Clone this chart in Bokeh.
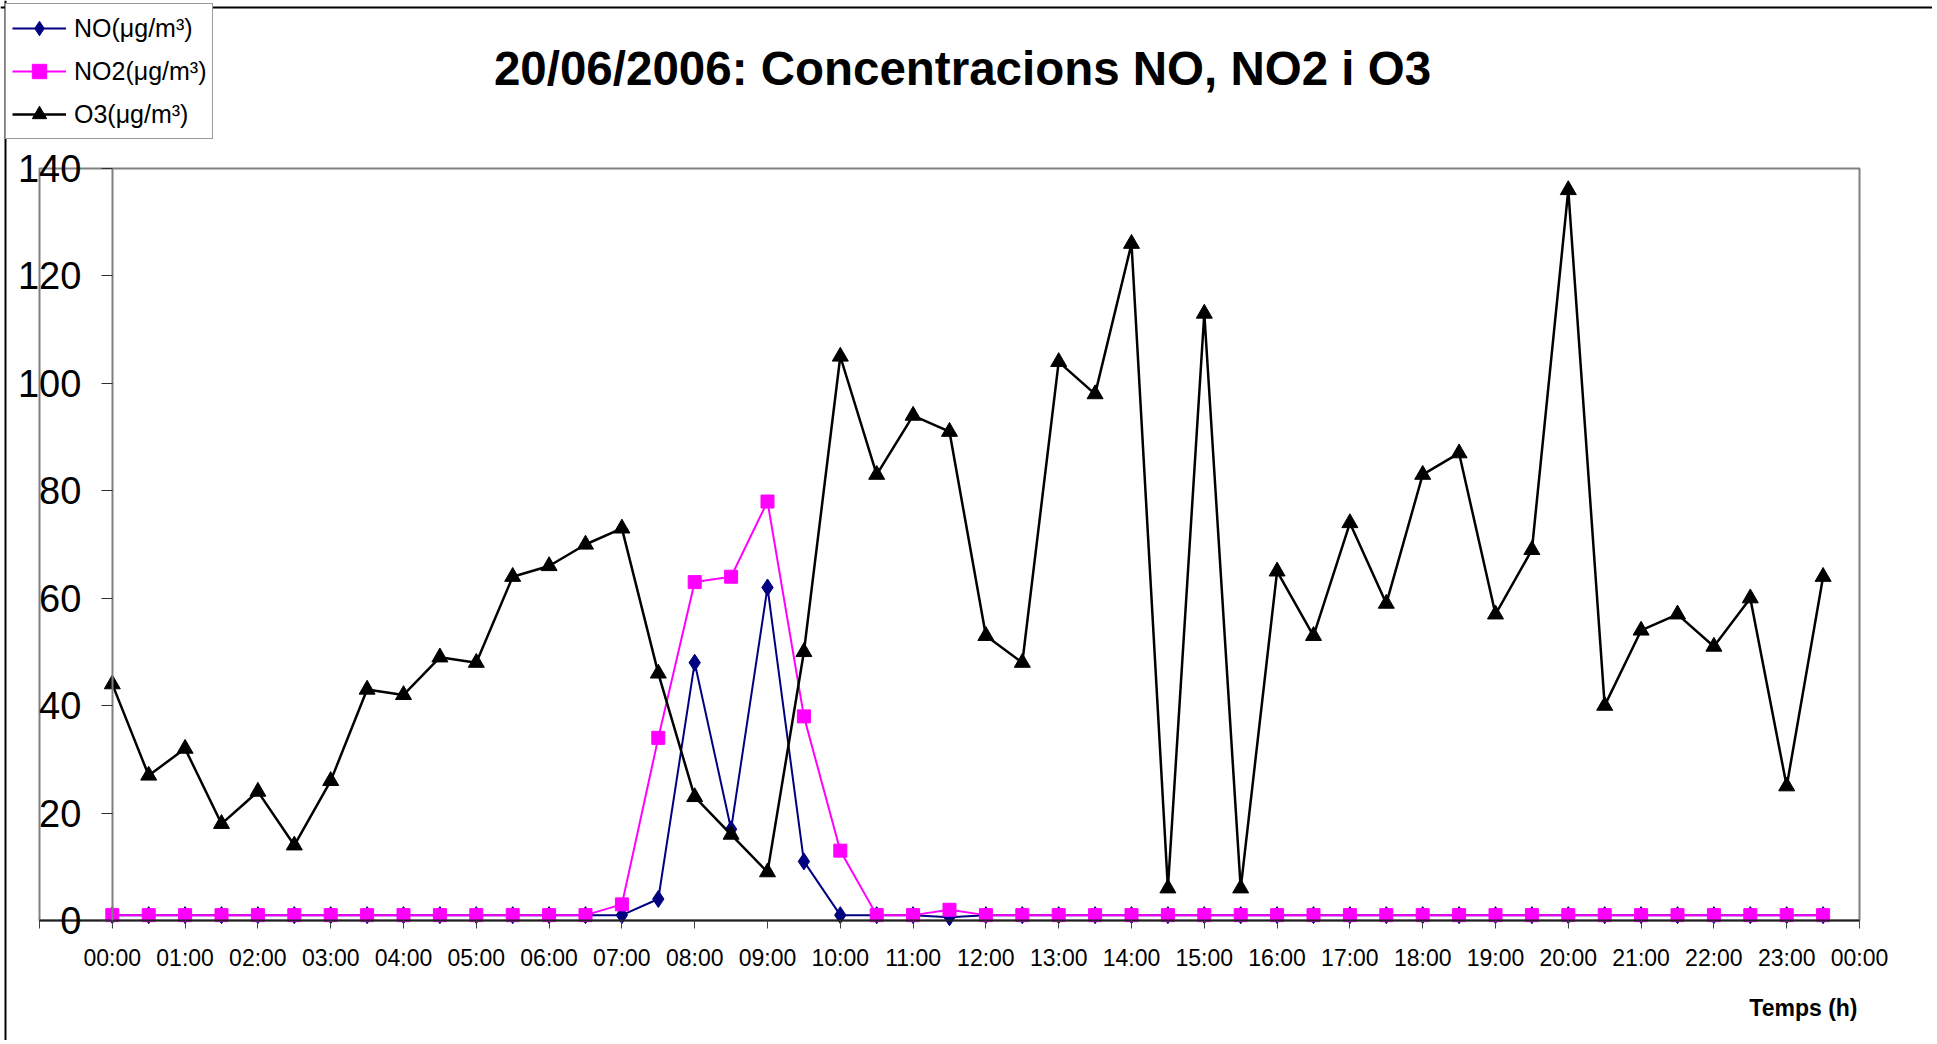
from bokeh.plotting import figure
from bokeh.models import (ColumnDataSource, FixedTicker, Label, Legend, LegendItem,
                          LinearAxis, Range1d, Span)
from bokeh.embed import file_html
from bokeh.resources import INLINE

# ---------------- data ----------------
times = ["00:00", "00:30", "01:00", "01:30", "02:00", "02:30", "03:00", "03:30",
         "04:00", "04:30", "05:00", "05:30", "06:00", "06:30", "07:00", "07:30",
         "08:00", "08:30", "09:00", "09:30", "10:00", "10:30", "11:00", "11:30",
         "12:00", "12:30", "13:00", "13:30", "14:00", "14:30", "15:00", "15:30",
         "16:00", "16:30", "17:00", "17:30", "18:00", "18:30", "19:00", "19:30",
         "20:00", "20:30", "21:00", "21:30", "22:00", "22:30", "23:00", "23:30"]

no_vals = [1, 1, 1, 1, 1, 1, 1, 1,
           1, 1, 1, 1, 1, 1, 1, 4,
           48, 17, 62, 11, 1, 1, 1, 0.6,
           1, 1, 1, 1, 1, 1, 1, 1,
           1, 1, 1, 1, 1, 1, 1, 1,
           1, 1, 1, 1, 1, 1, 1, 1]

no2_vals = [1, 1, 1, 1, 1, 1, 1, 1,
            1, 1, 1, 1, 1, 1, 3, 34,
            63, 64, 78, 38, 13, 1, 1, 2,
            1, 1, 1, 1, 1, 1, 1, 1,
            1, 1, 1, 1, 1, 1, 1, 1,
            1, 1, 1, 1, 1, 1, 1, 1]

o3_vals = [44, 27, 32, 18, 24, 14, 26, 43,
           42, 49, 48, 64, 66, 70, 73, 46,
           23, 16, 9, 50, 105, 83, 94, 91,
           53, 48, 104, 98, 126, 6, 113, 6,
           65, 53, 74, 59, 83, 87, 57, 69,
           136, 40, 54, 57, 51, 60, 25, 64]

hour_ticks = [-1, 0, 1, 2, 3, 4, 5, 6, 7, 8, 9, 10, 11, 12,
              13, 14, 15, 16, 17, 18, 19, 20, 21, 22, 23, 24]
hour_labels = ["", "00:00", "01:00", "02:00", "03:00", "04:00", "05:00", "06:00",
               "07:00", "08:00", "09:00", "10:00", "11:00", "12:00", "13:00",
               "14:00", "15:00", "16:00", "17:00", "18:00", "19:00", "20:00",
               "21:00", "22:00", "23:00", "00:00"]
y_ticks = [0, 20, 40, 60, 80, 100, 120, 140]

title_text = "20/06/2006: Concentracions NO, NO2 i O3"
xlabel_text = "Temps (h)"
series_names = ["NO(μg/m³)", "NO2(μg/m³)", "O3(μg/m³)"]

# time strings -> hours
hours = [int(t[:2]) + int(t[3:]) / 60.0 for t in times]

# ---------------- layout ----------------
FONT = "Liberation Sans"
W, H = 1932, 1040
PX_L, PX_R, PX_T, PX_B = 39, 1859, 168, 920      # plot-area box in canvas pixels
x_min, x_max = -1, 24                             # category axis extent (hours)
y_min, y_max = 0, 140
sx = (PX_R - PX_L) / (x_max - x_min)
sy = (PX_B - PX_T) / (y_max - y_min)


def dx(px):
    return x_min + (px - PX_L) / sx


def dy(py):
    return y_min + (PX_B - py) / sy


p = figure(width=W, height=H, output_backend="svg", toolbar_location=None,
           x_axis_type=None, y_axis_type=None,
           x_range=Range1d(dx(0), dx(W)), y_range=Range1d(dy(H), dy(0)),
           min_border_left=0, min_border_right=0, min_border_top=0, min_border_bottom=0)
p.title.visible = False
p.background_fill_color = "white"
p.border_fill_color = "white"
p.outline_line_color = None
p.grid.visible = False

# outer chart border (left and top)
p.add_layout(Span(location=dx(5), dimension="height", line_color="black", line_width=2))
p.add_layout(Span(location=dy(7), dimension="width", line_color="black", line_width=2))

# plot area box
p.quad(left=[x_min], right=[x_max], bottom=[y_min], top=[y_max],
       fill_color=None, line_color="#808080", line_width=2)

# x axis
xa = LinearAxis(fixed_location=0, bounds=(x_min, x_max))
xa.ticker = FixedTicker(ticks=hour_ticks, minor_ticks=[])
xa.major_label_overrides = {t: lab for t, lab in zip(hour_ticks, hour_labels)}
xa.major_label_text_font = FONT
xa.major_label_text_font_size = "23px"
xa.major_label_text_color = "black"
xa.major_label_standoff = 16
xa.major_tick_out = 8
xa.major_tick_in = 0
xa.minor_tick_out = 0
xa.minor_tick_in = 0
xa.axis_line_color = "#202020"
xa.axis_line_width = 2
xa.major_tick_line_color = "#404040"
xa.major_tick_line_width = 1
p.add_layout(xa, "below")

# y axis (crosses at 00:00)
ya = LinearAxis(fixed_location=0, bounds=(y_min, y_max))
ya.ticker = FixedTicker(ticks=y_ticks, minor_ticks=[])
ya.major_label_text_font = FONT
ya.major_label_text_font_size = "38px"
ya.major_label_text_color = "black"
ya.major_label_standoff = 20
ya.major_tick_out = 11
ya.major_tick_in = 0
ya.minor_tick_out = 0
ya.minor_tick_in = 0
ya.axis_line_color = "#808080"
ya.axis_line_width = 2
ya.major_tick_line_color = "#303030"
ya.major_tick_line_width = 1
p.add_layout(ya, "left")

src = ColumnDataSource(dict(x=hours, no=no_vals, no2=no2_vals, o3=o3_vals))

NAVY = "#000080"
MAG = "#FF00FF"

l_no = p.line("x", "no", source=src, line_color=NAVY, line_width=2)
m_no = p.scatter("x", "no", source=src, marker="diamond", size=17,
                 fill_color=NAVY, line_color=NAVY)
l_no2 = p.line("x", "no2", source=src, line_color=MAG, line_width=2)
m_no2 = p.scatter("x", "no2", source=src, marker="square", size=13,
                  fill_color=MAG, line_color=MAG)
l_o3 = p.line("x", "o3", source=src, line_color="black", line_width=2.5)
m_o3 = p.scatter("x", "o3", source=src, marker="triangle", size=16,
                 fill_color="black", line_color="black")

# title and x axis label
p.add_layout(Label(x=dx(962), y=dy(68), text=title_text,
                   text_font=FONT, text_font_size="47.5px", text_font_style="bold",
                   text_align="center", text_baseline="middle", text_color="black"))
p.add_layout(Label(x=dx(1857), y=dy(1007), text=xlabel_text,
                   text_font=FONT, text_font_size="23px", text_font_style="bold",
                   text_align="right", text_baseline="middle", text_color="black"))

legend = Legend(items=[LegendItem(label=series_names[0], renderers=[l_no, m_no]),
                       LegendItem(label=series_names[1], renderers=[l_no2, m_no2]),
                       LegendItem(label=series_names[2], renderers=[l_o3, m_o3])],
                location=(5, H - 139), orientation="vertical",
                label_text_font=FONT, label_text_font_size="25px", label_text_color="black",
                glyph_width=54, glyph_height=36, label_height=36, label_standoff=8,
                spacing=7, padding=6, margin=0,
                border_line_color="#333333", border_line_width=1.5,
                background_fill_color="white", background_fill_alpha=1.0)
p.add_layout(legend, "center")

open("out.html", "w").write(file_html(p, INLINE))
